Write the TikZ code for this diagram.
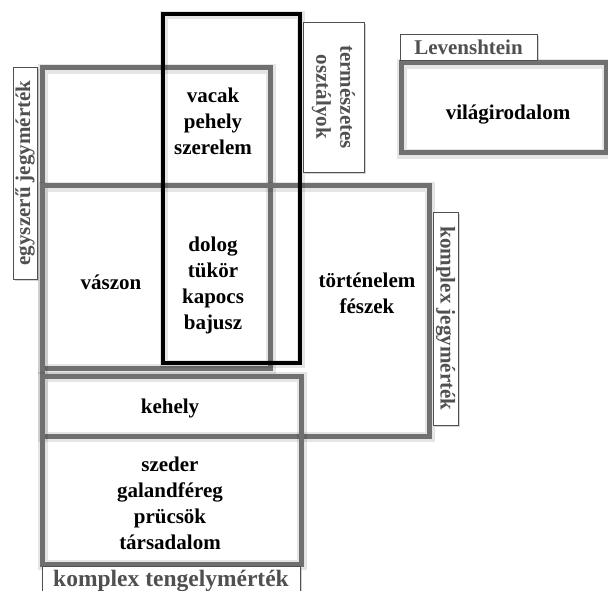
\documentclass[tikz,border=0pt]{standalone}
\usepackage{fontspec}
\setmainfont{Liberation Serif}
\usepackage{tikz}
\usetikzlibrary{shadows}

\definecolor{boxgray}{HTML}{707070}
\definecolor{labgray}{HTML}{505050}

\begin{document}
\begin{tikzpicture}[x=1pt,y=-1pt,
    measure/.style={draw=boxgray,line width=5pt,
      preaction={draw=black,opacity=0.1,line width=10pt,
        transform canvas={shift={(1pt,-1pt)}}}},
    natural/.style={draw=black,line width=4pt,
      preaction={draw=black,opacity=0.1,line width=8pt,
        transform canvas={shift={(1pt,-1pt)}}}},
    word/.style={font=\fontsize{21}{26}\selectfont\bfseries,align=center},
    tag/.style={draw=labgray,line width=0.8pt,fill=white,inner sep=0pt,
      text=labgray,font=\fontsize{21}{24}\selectfont\bfseries,align=center,
      drop shadow={shadow xshift=2pt,shadow yshift=-2pt,opacity=0.35}}]
    \useasboundingbox (0,0) rectangle (608,591);

    \draw[measure] (42,68) rectangle (270,368);
    \draw[measure] (42,186) rectangle (429,436);
    \draw[measure] (42,376) rectangle (301,564);
    \draw[measure] (401,63) rectangle (606,153);
    \draw[natural] (163,14) rectangle (300,363);

    \node[tag,rotate=90,minimum width=212pt,minimum height=24pt] (simple) at (25,173) {egyszerű jegymérték};
    \node[tag,rotate=-90,minimum width=150pt,minimum height=61pt] (nat) at (333.5,97) {természetes\\osztályok};
    \node[tag,rotate=-90,minimum width=213pt,minimum height=25pt] (cplx) at (445.5,318.5) {komplex jegymérték};
    \node[tag,minimum width=137pt,minimum height=26pt] (lev) at (468.5,47) {Levenshtein};
    \node[tag,minimum width=258pt,minimum height=30pt,font=\fontsize{23.5}{24}\selectfont\bfseries] (axis) at (171,581) {komplex tengelymérték};

    \node[word] (top) at (213,121) {vacak\\pehely\\szerelem};
    \node[word] (core) at (213,285) {dolog\\tükör\\kapocs\\bajusz};
    \node[word] (left) at (111,282) {vászon};
    \node[word] (right) at (367,293) {történelem\\fészek};
    \node[word] (lit) at (508,115) {világirodalom};
    \node[word] (cup) at (170,408) {kehely};
    \node[word] (low) at (170,503) {szeder\\galandféreg\\prücsök\\társadalom};

\end{tikzpicture}
\end{document}
